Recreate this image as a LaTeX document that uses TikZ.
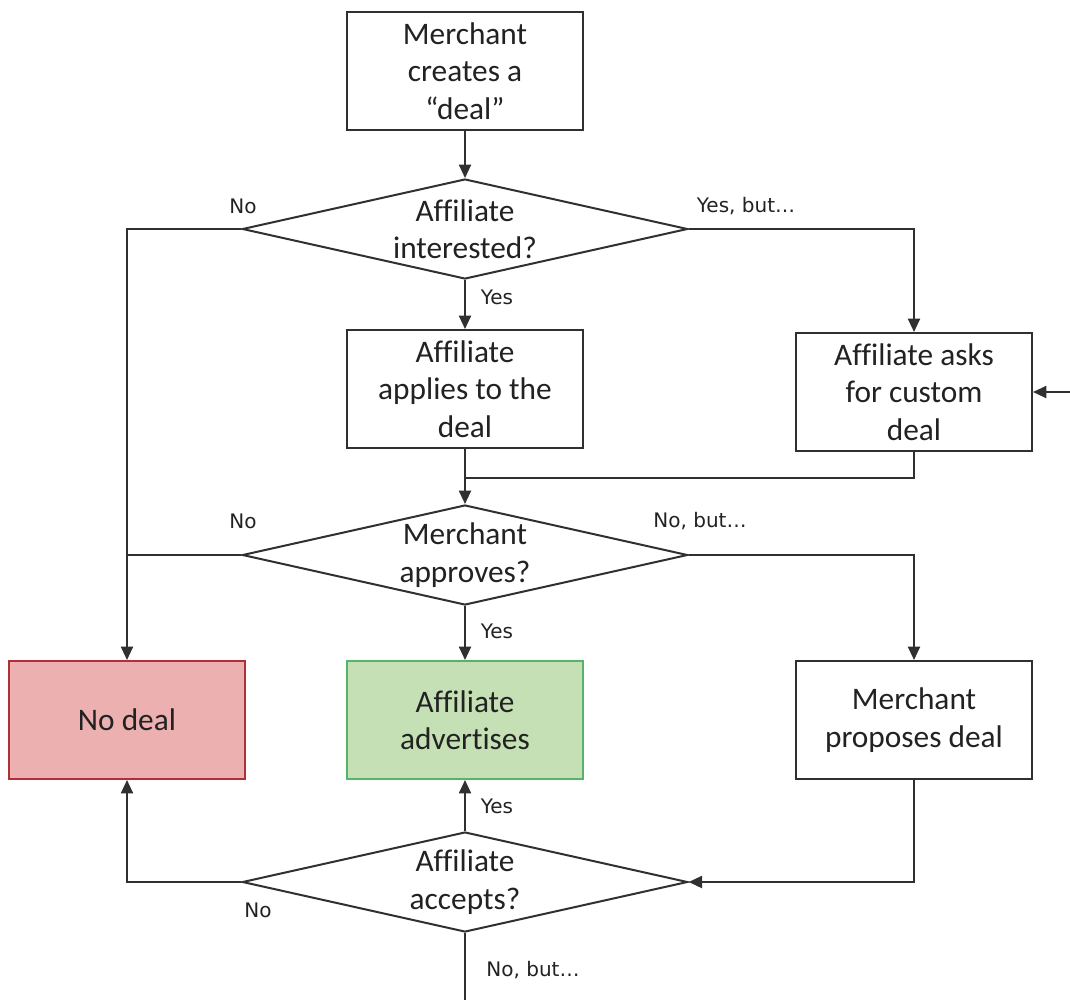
\documentclass[tikz,border=0pt]{standalone}
\usepackage{fontspec}
\setmainfont{Carlito}[Ligatures=NoCommon]
\newfontfamily\lblfont{DejaVu Sans}
\usetikzlibrary{shapes.geometric,arrows.meta}
\definecolor{ink}{HTML}{222222}
\definecolor{wire}{HTML}{303030}
\definecolor{nofill}{HTML}{EBB0AF}
\definecolor{nodraw}{HTML}{B0303A}
\definecolor{okfill}{HTML}{C5E0B4}
\definecolor{okdraw}{HTML}{55B46A}
\tikzset{
  stepbox/.style={draw=wire, line width=1.5pt, fill=white, text=ink,
    minimum width=177pt, minimum height=88.5pt, inner sep=0pt,
    align=center, font=\fontsize{23.5}{28}\selectfont},
  question/.style={diamond, draw=wire, line width=1.5pt, fill=white, text=ink,
    aspect=4.45, inner sep=0pt, minimum width=334pt, minimum height=75pt,
    align=center, font=\fontsize{23.5}{28}\selectfont},
  flow/.style={draw=wire, line width=1.5pt, -{Triangle[length=10pt,width=9pt]}},
  plain/.style={draw=wire, line width=1.5pt},
  lbl/.style={text=ink, inner sep=1pt, font=\lblfont\fontsize{15}{17}\selectfont}
}
\begin{document}
\begin{tikzpicture}[x=0.75pt,y=-0.75pt]
\useasboundingbox (0,0) rectangle (1070,1000);

% process boxes and decisions
\node[stepbox] (create) at (465,71) {Merchant\\creates a\\“deal”};
\node[question] (interest) at (465,229) {Affiliate\\interested?};
\node[stepbox] (apply) at (465,389) {Affiliate\\applies to the\\deal};
\node[stepbox] (custom) at (914,392) {Affiliate asks\\for custom\\deal};
\node[question] (approve) at (465,555) {Merchant\\approves?};
\node[stepbox, fill=nofill, draw=nodraw] (nodeal) at (127,720) {No deal};
\node[stepbox, fill=okfill, draw=okdraw] (adv) at (465,720) {Affiliate\\advertises};
\node[stepbox] (propose) at (914,720) {Merchant\\proposes deal};
\node[question] (accept) at (465,882) {Affiliate\\accepts?};

% loose ends and junctions
\coordinate (merge) at (465,478);
\coordinate (loopin) at (1070,392);
\coordinate (loopout) at (465,1000);

% connectors
\draw[flow] (create) -- (interest);
\draw[flow] (interest) -- (apply);
\draw[flow] (interest.west) -| (nodeal.north);
\draw[flow] (interest.east) -| (custom.north);
\draw[flow] (apply) -- (approve);
\draw[plain] (custom.south) |- (merge);
\draw[plain] (approve.west) -- (nodeal.north |- approve.west);
\draw[flow] (approve.east) -| (propose.north);
\draw[flow] (approve) -- (adv);
\draw[flow] (accept) -- (adv);
\draw[flow] (accept.west) -| (nodeal.south);
\draw[flow] (propose.south) |- (accept.east);
\draw[plain] (accept.south) -- (loopout);
\draw[flow] (loopin) -- (custom.east);

% branch labels
\node[lbl] (l1) at (243,206) {No};
\node[lbl] (l2) at (746,206) {Yes, but…};
\node[lbl] (l3) at (497,297) {Yes};
\node[lbl] (l4) at (243,521) {No};
\node[lbl] (l5) at (700,521) {No, but…};
\node[lbl] (l6) at (497,631) {Yes};
\node[lbl] (l7) at (497,806) {Yes};
\node[lbl] (l8) at (258,910) {No};
\node[lbl] (l9) at (533,970) {No, but…};
\end{tikzpicture}
\end{document}
